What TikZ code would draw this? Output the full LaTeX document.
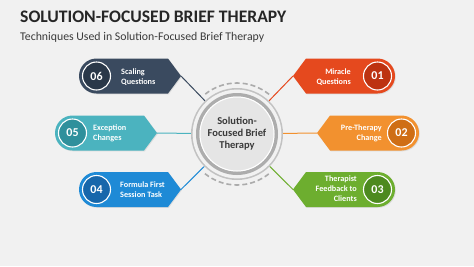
\documentclass[tikz,border=0pt]{standalone}
\usepackage{fontspec}
\setmainfont{Carlito}
\usetikzlibrary{shadows}
\definecolor{bg}{HTML}{F1F1F1}
\definecolor{titlec}{HTML}{262626}
\definecolor{subc}{HTML}{3A3A3A}
\definecolor{cA}{HTML}{3A4A5F}\definecolor{dA}{HTML}{2A3849}
\definecolor{cB}{HTML}{4BB3BF}\definecolor{dB}{HTML}{2F909C}
\definecolor{cC}{HTML}{1E8AD6}\definecolor{dC}{HTML}{1767AB}
\definecolor{cD}{HTML}{E5491E}\definecolor{dD}{HTML}{BD3311}
\definecolor{cE}{HTML}{F2912F}\definecolor{dE}{HTML}{CF6E15}
\definecolor{cF}{HTML}{6DAE2F}\definecolor{dF}{HTML}{4D8A1F}
\newcommand{\LBadge}[7]{%
  \fill[#5,badge] (#2+17.5,#4+17.5) -- (#3-13,#4+17.5) -- (#3,#4) -- (#3-13,#4-17.5) -- (#2+17.5,#4-17.5) arc[start angle=-90,end angle=-270,radius=17.5] -- cycle;
  \node[numc,fill=#6] (#1num) at (#2+17.5,#4) {#7};}
\newcommand{\RBadge}[7]{%
  \fill[#5,badge] (#2,#4) -- (#2+13,#4+17.5) -- (#3-17.5,#4+17.5) arc[start angle=90,end angle=-90,radius=17.5] -- (#2+13,#4-17.5) -- cycle;
  \node[numc,fill=#6] (#1num) at (#3-17.5,#4) {#7};}
\begin{document}
\begin{tikzpicture}[x=1pt,y=1pt,
  lbl/.style={font=\bfseries\fontsize{8.2}{9.8}\selectfont, text=white, inner sep=0, align=left, anchor=west},
  rlbl/.style={font=\bfseries\fontsize{8.2}{9.8}\selectfont, text=white, inner sep=0, align=right, anchor=east},
  numc/.style={circle, draw=white, line width=1.1pt, minimum size=28pt, inner sep=0, text=white, font=\bfseries\fontsize{12}{12}\selectfont},
  link/.style={line width=1pt},
  badge/.style={drop shadow={opacity=0.18,shadow xshift=0.8pt,shadow yshift=-0.8pt}}]
\fill[bg] (0,0) rectangle (474,-266);
\useasboundingbox (0,0) rectangle (474,-266);
\node[anchor=base west, inner sep=0, font=\bfseries\fontsize{17.6}{19}\selectfont, text=titlec] (title) at (20,-22.5) {SOLUTION-FOCUSED BRIEF THERAPY};
\node[anchor=base west, inner sep=0, font=\fontsize{11.8}{13}\selectfont, text=subc] (sub) at (20,-40) {Techniques Used in Solution-Focused Brief Therapy};
% centre
\node[circle, minimum size=92pt, inner sep=0] (c) at (237,-134) {};
\fill[black!24] (c.center) circle (46);
\fill[black!5] (c.center) circle (44.4);
\fill[black!32] (c.center) circle (41);
\fill[black!10] (c.center) circle (37.5);
\draw[white, line width=1pt] (c.center) circle (37);
\draw[black!33, line width=1.6pt, dash pattern=on 5pt off 3pt] (c.center) ++(51:51) arc[start angle=51,end angle=129,radius=51];
\draw[black!33, line width=1.6pt, dash pattern=on 5pt off 3pt] (c.center) ++(231:51) arc[start angle=231,end angle=309,radius=51];
\node[align=center, font=\bfseries\fontsize{10.5}{12}\selectfont, text=subc] (ct) at (237,-134) {Solution-\\Focused Brief\\Therapy};
% tips
\coordinate (t6) at (181,-76);
\coordinate (t5) at (157,-133);
\coordinate (t4) at (181,-189.5);
\coordinate (t1) at (293,-76);
\coordinate (t2) at (317,-133);
\coordinate (t3) at (293,-189.5);
\draw[link,cA] (t6) -- (c);
\draw[link,cB] (t5) -- (c);
\draw[link,cC] (t4) -- (c);
\draw[link,cD] (t1) -- (c);
\draw[link,cE] (t2) -- (c);
\draw[link,cF] (t3) -- (c);
% badges
\LBadge{b6}{79}{181}{-76}{cA}{dA}{06}
\LBadge{b5}{55}{157}{-133}{cB}{dB}{05}
\LBadge{b4}{79}{181}{-189.5}{cC}{dC}{04}
\RBadge{b1}{293}{395}{-76}{cD}{dD}{01}
\RBadge{b2}{317}{419}{-133}{cE}{dE}{02}
\RBadge{b3}{293}{395}{-189.5}{cF}{dF}{03}
\node[lbl] (l6) at (121,-77) {Scaling\\Questions};
\node[lbl] (l5) at (93,-133) {Exception\\Changes};
\node[lbl] (l4) at (120,-189.5) {Formula First\\Session Task};
\node[rlbl] (l1) at (351,-77) {Miracle\\Questions};
\node[rlbl] (l2) at (382,-133) {Pre-Therapy\\Change};
\node[rlbl] (l3) at (357,-188.5) {Therapist\\Feedback to\\Clients};
\end{tikzpicture}
\end{document}
